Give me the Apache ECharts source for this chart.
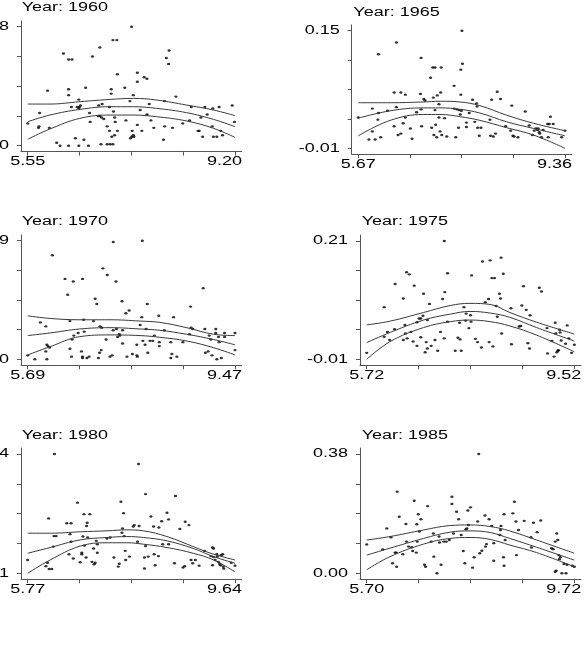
<!DOCTYPE html>
<html>
<head>
<meta charset="utf-8">
<script src="https://cdn.jsdelivr.net/npm/echarts@6/dist/echarts.min.js"></script>
<style>
  html, body { margin: 0; padding: 0; background: #fff; }
  #main { width: 588px; height: 650px; }
</style>
</head>
<body>
<div id="main"></div>
<script>
var years = ['1960', '1965', '1970', '1975', '1980', '1985'];

// axis end values (min / max labels) per year
var xEnds = [[5.55, 9.20], [5.67, 9.36], [5.69, 9.47], [5.72, 9.52], [5.77, 9.64], [5.70, 9.72]];
var yEnds = [[0.00, 0.08], [-0.01, 0.15], [0.00, 0.09], [-0.01, 0.21], [-0.01, 0.24], [0.00, 0.38]];

// scatter points [x, y]
var pts1960 = [
  [5.55,0.015],[5.76,0.022],[5.74,0.012],[5.75,0.013],[5.90,0.037],[5.93,0.012],[6.06,0.002],[6.12,0.000],[6.18,0.062],[6.27,0.058],
  [6.33,0.058],[6.27,0.038],[6.27,0.034],[6.27,0.000],[6.32,0.026],[6.39,0.005],[6.45,0.031],[6.42,0.026],[6.46,0.026],[6.45,0.025],
  [6.48,0.027],[6.45,0.000],[6.54,0.004],[6.57,0.039],[6.62,0.000],[6.64,0.022],[6.65,0.016],[6.69,0.060],[6.79,0.020],[6.80,0.027],
  [6.86,0.028],[6.82,0.066],[6.82,0.020],[6.85,0.019],[6.89,0.018],[6.84,0.001],[6.95,0.013],[6.95,0.001],[7.00,0.001],[7.05,0.001],
  [6.99,0.026],[7.02,0.038],[7.02,0.035],[6.99,0.010],[7.05,0.071],[7.12,0.071],[7.03,0.006],[7.08,0.007],[7.06,0.023],[7.08,0.019],
  [7.09,0.016],[7.13,0.048],[7.13,0.010],[7.26,0.039],[7.28,0.017],[7.35,0.030],[7.38,0.080],[7.36,0.005],[7.38,0.006],[7.41,0.007],
  [7.42,0.006],[7.39,0.010],[7.41,0.034],[7.48,0.049],[7.48,0.043],[7.48,0.014],[7.53,0.024],[7.56,0.010],[7.60,0.046],[7.65,0.045],
  [7.65,0.021],[7.69,0.028],[7.72,0.017],[7.77,0.012],[7.94,0.004],[7.96,0.030],[7.96,0.013],[7.99,0.059],[8.04,0.064],[8.03,0.055],
  [8.10,0.012],[8.16,0.033],[8.28,0.015],[8.40,0.017],[8.43,0.026],[8.55,0.010],[8.57,0.010],[8.60,0.019],[8.63,0.006],[8.67,0.026],
  [8.71,0.021],[8.80,0.013],[8.81,0.025],[8.82,0.006],[8.88,0.006],[8.92,0.026],[8.95,0.010],[8.98,0.007],[9.15,0.027],[9.19,0.016]
];
var pts1965 = [
  [5.67,0.032],[5.86,0.002],[5.97,0.002],[6.07,0.005],[5.92,0.044],[5.92,0.013],[6.02,0.029],[6.03,0.038],[6.03,0.118],[6.19,0.041],
  [6.31,0.066],[6.31,0.020],[6.35,0.134],[6.35,0.046],[6.38,0.008],[6.43,0.010],[6.43,0.066],[6.47,0.024],[6.51,0.063],[6.51,0.032],
  [6.60,0.017],[6.63,0.003],[6.71,0.039],[6.78,0.064],[6.79,0.113],[6.79,0.043],[6.80,0.020],[6.84,0.057],[6.86,0.055],[6.96,0.086],
  [7.00,0.100],[7.04,0.100],[6.98,0.018],[7.01,0.059],[7.02,0.008],[7.04,0.042],[7.05,0.022],[7.07,0.005],[7.08,0.062],[7.11,0.050],
  [7.11,0.032],[7.13,0.013],[7.14,0.066],[7.15,0.100],[7.16,0.008],[7.21,0.031],[7.25,0.006],[7.38,0.075],[7.38,0.044],[7.43,0.043],
  [7.41,0.005],[7.46,0.018],[7.47,0.042],[7.51,0.041],[7.49,0.036],[7.50,0.097],[7.53,0.105],[7.50,0.063],[7.52,0.150],[7.60,0.025],
  [7.60,0.019],[7.65,0.038],[7.71,0.056],[7.75,0.026],[7.78,0.051],[7.79,0.047],[7.80,0.018],[7.83,0.007],[7.86,0.018],[8.02,0.029],
  [8.03,0.007],[8.08,0.006],[8.05,0.056],[8.12,0.010],[8.15,0.067],[8.21,0.057],[8.30,0.020],[8.39,0.014],[8.41,0.048],[8.43,0.007],
  [8.45,0.006],[8.52,0.005],[8.65,0.040],[8.72,0.021],[8.78,0.008],[8.81,0.014],[8.84,0.017],[8.87,0.015],[8.88,0.017],[8.90,0.012],
  [8.91,0.010],[8.94,0.005],[8.97,0.015],[9.05,0.023],[9.08,0.023],[9.06,0.005],[9.10,0.033],[9.15,0.023],[9.30,0.005],[9.36,0.014]
];
var pts1970 = [
  [5.69,0.003],[5.82,0.000],[5.92,0.028],[6.02,0.025],[6.02,0.006],[6.04,0.000],[6.04,0.011],[6.09,0.009],[6.06,0.010],[6.14,0.079],
  [6.37,0.061],[6.42,0.049],[6.46,0.029],[6.46,0.008],[6.49,0.002],[6.50,0.015],[6.53,0.018],[6.52,0.059],[6.61,0.020],[6.67,0.006],
  [6.69,0.002],[6.69,0.001],[6.69,0.061],[6.71,0.030],[6.72,0.021],[6.77,0.001],[6.81,0.002],[6.89,0.029],[6.92,0.046],[6.95,0.042],
  [6.98,0.001],[7.00,0.005],[7.01,0.025],[7.04,0.024],[7.03,0.007],[7.06,0.069],[7.12,0.015],[7.14,0.064],[7.19,0.002],[7.23,0.003],
  [7.25,0.089],[7.25,0.022],[7.30,0.059],[7.31,0.023],[7.33,0.017],[7.36,0.019],[7.37,0.018],[7.41,0.044],[7.42,0.022],[7.42,0.012],
  [7.48,0.035],[7.54,0.037],[7.50,0.002],[7.60,0.004],[7.68,0.003],[7.68,0.011],[7.69,0.002],[7.74,0.026],[7.77,0.032],[7.78,0.090],
  [7.79,0.014],[7.83,0.011],[7.85,0.023],[7.87,0.042],[7.88,0.005],[7.92,0.014],[7.97,0.014],[8.00,0.018],[8.08,0.033],[8.09,0.013],
  [8.09,0.010],[8.18,0.022],[8.30,0.013],[8.30,0.001],[8.32,0.004],[8.35,0.032],[8.41,0.002],[8.52,0.013],[8.64,0.019],[8.66,0.040],
  [8.67,0.024],[8.70,0.023],[8.89,0.054],[8.92,0.023],[8.93,0.005],[8.98,0.006],[9.00,0.018],[9.03,0.015],[9.05,0.003],[9.12,0.023],
  [9.12,0.020],[9.14,0.000],[9.17,0.017],[9.18,0.013],[9.22,0.001],[9.28,0.020],[9.28,0.017],[9.47,0.020],[9.47,0.007]
];
var pts1975 = [
  [5.72,0.002],[6.04,0.087],[6.04,0.032],[6.10,0.041],[6.14,0.026],[6.23,0.046],[6.24,0.130],[6.39,0.103],[6.39,0.026],[6.42,0.054],
  [6.43,0.038],[6.46,0.029],[6.45,0.152],[6.50,0.148],[6.53,0.041],[6.57,0.023],[6.59,0.127],[6.64,0.015],[6.64,0.059],[6.68,0.066],
  [6.71,0.066],[6.75,0.071],[6.71,0.031],[6.76,0.112],[6.79,0.003],[6.81,0.022],[6.83,0.063],[6.83,0.010],[6.87,0.093],[6.90,0.015],
  [6.97,0.026],[7.02,0.006],[7.07,0.041],[7.11,0.102],[7.14,0.210],[7.15,0.115],[7.14,0.029],[7.20,0.150],[7.20,0.060],[7.34,0.006],
  [7.39,0.030],[7.43,0.027],[7.42,0.058],[7.45,0.006],[7.50,0.087],[7.53,0.062],[7.54,0.075],[7.59,0.048],[7.62,0.072],[7.63,0.060],
  [7.64,0.146],[7.71,0.028],[7.75,0.022],[7.82,0.012],[7.84,0.172],[7.89,0.096],[7.95,0.102],[7.96,0.022],[7.98,0.174],[8.01,0.141],
  [8.06,0.141],[8.03,0.014],[8.09,0.089],[8.11,0.069],[8.15,0.112],[8.17,0.103],[8.18,0.179],[8.19,0.038],[8.22,0.149],[8.36,0.085],
  [8.37,0.018],[8.51,0.051],[8.54,0.052],[8.56,0.090],[8.59,0.126],[8.64,0.082],[8.67,0.020],[8.70,0.010],[8.71,0.072],[8.88,0.123],
  [8.92,0.116],[9.02,0.048],[9.03,0.001],[9.11,0.024],[9.15,-0.005],[9.17,0.058],[9.18,0.038],[9.20,0.003],[9.22,0.006],[9.23,0.007],
  [9.25,0.045],[9.26,0.040],[9.28,0.025],[9.36,0.019],[9.39,0.053],[9.42,0.029],[9.47,0.002],[9.52,0.017]
];
var pts1980 = [
  [5.77,0.018],[6.11,0.005],[6.14,0.012],[6.17,-0.001],[6.22,-0.001],[6.16,0.105],[6.25,0.046],[6.26,0.068],[6.30,0.068],[6.27,0.240],
  [6.50,0.095],[6.58,0.095],[6.54,0.030],[6.56,0.072],[6.58,0.056],[6.62,0.021],[6.70,0.138],[6.75,0.013],[6.78,0.030],[6.78,0.033],
  [6.80,0.067],[6.82,0.114],[6.83,0.048],[6.86,0.023],[6.87,0.089],[6.88,0.096],[6.89,0.065],[6.93,0.114],[6.97,0.014],[7.01,0.009],
  [7.03,0.012],[7.00,0.042],[7.05,0.058],[7.07,0.033],[7.07,0.051],[7.25,0.063],[7.31,0.065],[7.38,0.023],[7.46,0.004],[7.48,0.010],
  [7.51,0.140],[7.53,0.075],[7.54,0.084],[7.56,0.116],[7.57,0.068],[7.59,0.037],[7.60,0.018],[7.67,0.025],[7.74,0.088],[7.76,0.091],
  [7.82,0.056],[7.84,0.219],[7.85,0.089],[7.95,0.000],[7.95,0.023],[7.97,0.156],[7.97,0.047],[8.02,0.025],[8.07,0.109],[8.12,0.088],
  [8.13,0.030],[8.15,0.007],[8.21,0.026],[8.22,0.086],[8.27,0.099],[8.29,0.051],[8.37,0.117],[8.40,0.103],[8.40,0.051],[8.51,0.011],
  [8.53,0.152],[8.61,0.083],[8.67,0.002],[8.70,0.005],[8.71,0.098],[8.78,0.091],[8.82,0.018],[8.85,0.011],[8.90,0.018],[8.97,0.006],
  [9.07,0.037],[9.19,0.026],[9.22,0.044],[9.24,0.042],[9.22,0.007],[9.24,0.024],[9.27,0.018],[9.30,0.030],[9.31,0.025],[9.33,0.014],
  [9.35,0.010],[9.37,0.007],[9.38,0.028],[9.41,0.030],[9.42,0.004],[9.43,0.000],[9.57,0.012],[9.64,0.006]
];
var pts1985 = [
  [5.70,0.092],[6.01,0.076],[6.09,0.143],[6.17,0.115],[6.20,0.032],[6.25,0.066],[6.27,0.066],[6.28,0.021],[6.29,0.260],[6.33,0.180],
  [6.40,0.061],[6.46,0.157],[6.47,0.101],[6.51,0.085],[6.57,0.083],[6.59,0.071],[6.62,0.231],[6.66,0.066],[6.67,0.156],[6.68,0.101],
  [6.70,0.188],[6.72,0.133],[6.75,0.172],[6.82,0.027],[6.84,0.021],[6.88,0.214],[6.95,0.101],[6.99,0.127],[7.00,0.053],[7.06,0.000],
  [7.10,0.117],[7.11,0.098],[7.14,0.027],[7.19,0.101],[7.24,0.101],[7.30,0.106],[7.35,0.244],[7.35,0.221],[7.38,0.127],[7.44,0.196],
  [7.48,0.172],[7.53,0.122],[7.57,0.071],[7.60,0.032],[7.62,0.140],[7.64,0.143],[7.66,0.200],[7.67,0.154],[7.71,0.210],[7.75,0.018],
  [7.78,0.051],[7.85,0.165],[7.87,0.380],[7.89,0.064],[7.93,0.072],[7.99,0.184],[8.00,0.085],[8.02,0.093],[8.07,0.172],[8.12,0.151],
  [8.16,0.040],[8.16,0.096],[8.28,0.122],[8.29,0.138],[8.30,0.151],[8.35,0.051],[8.36,0.188],[8.36,0.024],[8.38,0.106],[8.53,0.191],
  [8.56,0.228],[8.59,0.165],[8.60,0.058],[8.64,0.138],[8.75,0.167],[8.88,0.115],[8.89,0.082],[8.93,0.161],[9.00,0.131],[9.07,0.168],
  [9.28,0.080],[9.31,0.077],[9.35,0.101],[9.38,0.127],[9.35,0.005],[9.37,0.008],[9.40,0.106],[9.42,0.058],[9.43,0.045],[9.45,0.051],
  [9.48,0.000],[9.56,0.000],[9.52,0.030],[9.58,0.027],[9.68,0.024],[9.72,0.021]
];

// fitted curve and its band
var fitX1960 = [5.55, 5.94, 6.47, 7.00, 7.41, 7.82, 8.35, 8.82, 9.20];
var fitHi1960 = [0.0280, 0.0280, 0.0296, 0.0311, 0.0318, 0.0307, 0.0273, 0.0240, 0.0202];
var fitMid1960 = [0.0161, 0.0206, 0.0244, 0.0262, 0.0262, 0.0251, 0.0222, 0.0177, 0.0128];
var fitLo1960 = [0.0043, 0.0112, 0.0184, 0.0206, 0.0206, 0.0195, 0.0166, 0.0117, 0.0056];

var fitX1965 = [5.67, 6.24, 6.83, 7.13, 7.49, 7.84, 8.32, 8.80, 9.36];
var fitHi1965 = [0.052, 0.052, 0.053, 0.054, 0.053, 0.048, 0.035, 0.024, 0.014];
var fitMid1965 = [0.031, 0.041, 0.045, 0.045, 0.043, 0.038, 0.026, 0.017, 0.007];
var fitLo1965 = [0.007, 0.028, 0.036, 0.036, 0.033, 0.028, 0.018, 0.008, -0.010];

var fitX1970 = [5.69, 6.10, 6.64, 7.19, 7.74, 8.10, 8.59, 9.08, 9.47];
var fitHi1970 = [0.033, 0.031, 0.030, 0.030, 0.029, 0.028, 0.024, 0.019, 0.018];
var fitMid1970 = [0.018, 0.020, 0.023, 0.024, 0.023, 0.022, 0.019, 0.015, 0.011];
var fitLo1970 = [0.0033, 0.0096, 0.0172, 0.0185, 0.018, 0.0167, 0.0139, 0.0088, 0.0033];

var fitX1975 = [5.72, 6.15, 6.76, 7.25, 7.61, 7.98, 8.34, 8.83, 9.52];
var fitHi1975 = [0.054, 0.061, 0.077, 0.090, 0.094, 0.092, 0.077, 0.059, 0.037];
var fitMid1975 = [0.021, 0.040, 0.063, 0.074, 0.079, 0.076, 0.068, 0.049, 0.024];
var fitLo1975 = [-0.010, 0.023, 0.049, 0.060, 0.063, 0.060, 0.052, 0.035, 0.004];

var fitX1980 = [5.77, 6.19, 6.75, 7.25, 7.62, 7.93, 8.37, 8.86, 9.24, 9.64];
var fitHi1980 = [0.074, 0.074, 0.077, 0.079, 0.081, 0.079, 0.067, 0.046, 0.030, 0.018];
var fitMid1980 = [0.032, 0.044, 0.060, 0.065, 0.067, 0.065, 0.058, 0.042, 0.025, 0.011];
var fitLo1980 = [-0.010, 0.018, 0.047, 0.054, 0.054, 0.051, 0.044, 0.032, 0.018, -0.007];

var fitX1985 = [5.70, 6.15, 6.80, 7.31, 7.70, 8.09, 8.47, 8.99, 9.72];
var fitHi1985 = [0.106, 0.117, 0.138, 0.152, 0.154, 0.149, 0.135, 0.106, 0.064];
var fitMid1985 = [0.058, 0.080, 0.111, 0.131, 0.135, 0.130, 0.111, 0.083, 0.042];
var fitLo1985 = [0.011, 0.053, 0.093, 0.111, 0.114, 0.108, 0.090, 0.066, 0.021];

var points = [pts1960, pts1965, pts1970, pts1975, pts1980, pts1985];
var fitX = [fitX1960, fitX1965, fitX1970, fitX1975, fitX1980, fitX1985];
var fitHi = [fitHi1960, fitHi1965, fitHi1970, fitHi1975, fitHi1980, fitHi1985];
var fitMid = [fitMid1960, fitMid1965, fitMid1970, fitMid1975, fitMid1980, fitMid1985];
var fitLo = [fitLo1960, fitLo1965, fitLo1970, fitLo1975, fitLo1980, fitLo1985];

// panel layout in page pixels: end ticks of each axis, title spot (left, middle)
var panels = [
  {xL: 27.7, xR: 235, yT: 26.7, yB: 145.7, tx: 21.7, ty: 7.3},
  {xL: 358.3, xR: 565, yT: 30.7, yB: 148.3, tx: 353.3, ty: 12.7},
  {xL: 27.7, xR: 235, yT: 240.7, yB: 359.3, tx: 21.7, ty: 221.7},
  {xL: 366.7, xR: 574.3, yT: 241, yB: 359.3, tx: 361.7, ty: 221.7},
  {xL: 27.7, xR: 235, yT: 454, yB: 573.3, tx: 21.7, ty: 436},
  {xL: 366.7, xR: 574.3, yT: 454, yB: 573.3, tx: 361.7, ty: 436}
];
var padX = 0.032, padY = 0.05;
// the original figure was widened, so its text is stretched sideways
var TEXT_SX = 1.5;
var FONT = "12px 'Liberation Sans', Arial, sans-serif";
var AXIS_INK = '#555';
var CURVE_INK = '#3a3a3a';

function zip(a, b) {
  return a.map(function (v, i) { return [v, b[i]]; });
}
function fiveTicks(e) {
  var d = (e[1] - e[0]) / 4;
  return [e[0], e[0] + d, e[0] + 2 * d, e[0] + 3 * d, e[1]];
}

var grids = [], xAxes = [], yAxes = [], series = [];
panels.forEach(function (p, i) {
  var xe = xEnds[i], ye = yEnds[i];
  var wPx = p.xR - p.xL, hPx = p.yB - p.yT;
  var xr = xe[1] - xe[0], yr = ye[1] - ye[0];

  grids.push({
    left: p.xL - padX * wPx,
    top: p.yT - padY * hPx,
    width: wPx * (1 + 2 * padX),
    height: hPx * (1 + 2 * padY),
    containLabel: false,
    outerBoundsMode: 'none'
  });
  xAxes.push({
    type: 'value', gridIndex: i,
    min: xe[0] - padX * xr, max: xe[1] + padX * xr,
    axisLine: {show: true, onZero: false, lineStyle: {color: AXIS_INK, width: 1}},
    axisTick: {show: true, length: 4, customValues: fiveTicks(xe), lineStyle: {color: AXIS_INK, width: 1}},
    axisLabel: {show: false},
    splitLine: {show: false}
  });
  yAxes.push({
    type: 'value', gridIndex: i,
    min: ye[0] - padY * yr, max: ye[1] + padY * yr,
    axisLine: {show: true, onZero: false, lineStyle: {color: AXIS_INK, width: 1}},
    axisTick: {show: true, length: 4, customValues: fiveTicks(ye), lineStyle: {color: AXIS_INK, width: 1}},
    axisLabel: {show: false},
    splitLine: {show: false}
  });
  series.push({
    type: 'scatter', xAxisIndex: i, yAxisIndex: i,
    data: points[i], symbol: 'circle', symbolSize: [3.2, 2.4],
    itemStyle: {color: '#000'}, silent: true
  });
  [fitHi[i], fitMid[i], fitLo[i]].forEach(function (ys) {
    series.push({
      type: 'line', xAxisIndex: i, yAxisIndex: i,
      data: zip(fitX[i], ys), smooth: 0.4, showSymbol: false,
      lineStyle: {color: CURVE_INK, width: 1}, silent: true
    });
  });
});

var chart = echarts.init(document.getElementById('main'));
chart.setOption({
  animation: false,
  backgroundColor: '#fff',
  grid: grids,
  xAxis: xAxes,
  yAxis: yAxes,
  series: series
});

// titles and end labels, placed through the axes and widened like the original
function label(text, x, y, align) {
  return {
    type: 'text', x: x, y: y, scaleX: TEXT_SX, silent: true,
    style: {text: text, font: FONT, fill: '#000', align: align, verticalAlign: 'middle'}
  };
}
var texts = [];
panels.forEach(function (p, i) {
  var xe = xEnds[i], ye = yEnds[i];
  texts.push(label('Year: ' + years[i], p.tx, p.ty, 'left'));
  ye.forEach(function (v) {
    var pt = chart.convertToPixel({gridIndex: i}, [xAxes[i].min, v]);
    texts.push(label(v.toFixed(2), pt[0] - 12, pt[1], 'right'));
  });
  // low end label sits centred on its tick, high end label is pulled in to end just past its tick
  var lo = chart.convertToPixel({gridIndex: i}, [xe[0], yAxes[i].min]);
  var hi = chart.convertToPixel({gridIndex: i}, [xe[1], yAxes[i].min]);
  texts.push(label(xe[0].toFixed(2), lo[0], lo[1] + 10.5, 'center'));
  texts.push(label(xe[1].toFixed(2), hi[0] + 7, hi[1] + 10.5, 'right'));
});
chart.setOption({graphic: texts});
</script>
</body>
</html>
